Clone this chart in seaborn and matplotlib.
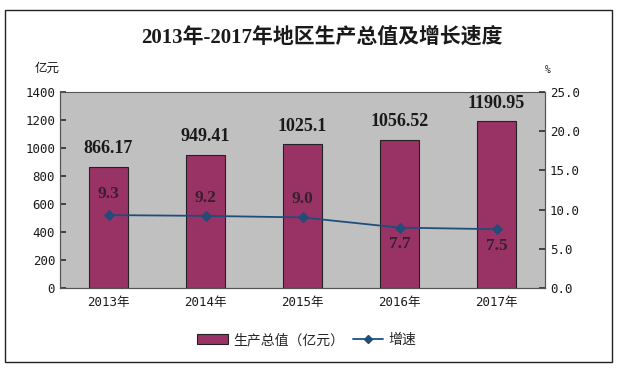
import matplotlib
matplotlib.use("Agg")
import matplotlib.pyplot as plt
import seaborn as sns
import pandas as pd
from matplotlib.patches import Rectangle
from matplotlib.lines import Line2D
from matplotlib.patches import Patch

years = ["2013年", "2014年", "2015年", "2016年", "2017年"]
gdp = [866.17, 949.41, 1025.1, 1056.52, 1190.95]
gdp_labels = ["866.17", "949.41", "1025.1", "1056.52", "1190.95"]
growth = [9.3, 9.2, 9.0, 7.7, 7.5]
growth_labels = ["9.3", "9.2", "9.0", "7.7", "7.5"]
left_ticks = [0, 200, 400, 600, 800, 1000, 1200, 1400]
right_ticks = [0, 5, 10, 15, 20, 25]
right_tick_labels = ["0.0", "5.0", "10.0", "15.0", "20.0", "25.0"]

sns.set_theme(style="white")
plt.rcParams["font.family"] = ["DejaVu Sans Mono", "Noto Sans CJK SC"]

BAR = "#993366"
LINE = "#1f4e7a"
TXT = "#1a1a1a"

fig = plt.figure(figsize=(6.19, 3.71), dpi=100)
fig.patch.set_facecolor("white")
ax = fig.add_axes([60/619, 1-288/371, 485/619, 196/371])
ax.set_facecolor("#c0c0c0")

df = pd.DataFrame({"year": years, "gdp": gdp})
sns.barplot(data=df, x="year", y="gdp", color=BAR, width=0.4, ax=ax,
            edgecolor="#222222", linewidth=0.8, saturation=1)
ax.set_xlim(-0.5, 4.5)
ax.set_ylim(0, 1400)
ax.set_yticks(left_ticks)
ax.set_xlabel("")
ax.set_ylabel("")
for i, (v, lab) in enumerate(zip(gdp, gdp_labels)):
    ax.annotate(lab, (i, v), xytext=(0, 7), textcoords="offset points",
                ha="center", va="bottom", fontsize=13, fontweight="bold",
                family="Liberation Serif", color=TXT)

ax2 = ax.twinx()
sns.lineplot(x=list(range(len(years))), y=growth, ax=ax2, color=LINE,
             marker="D", markersize=5, markeredgecolor=LINE, linewidth=1.3)
ax2.set_ylim(0, 25)
ax2.set_yticks(right_ticks)
ax2.set_yticklabels(right_tick_labels)
offs = [15, 13, 13, -12, -12]
for i, (v, lab, o) in enumerate(zip(growth, growth_labels, offs)):
    ax2.annotate(lab, (i, v), xytext=(0, o), textcoords="offset points",
                 ha="center", va="center", fontsize=12.5, fontweight="bold",
                 family="Liberation Serif", color="#3a1f2e")

ax.set_xticks([0, 1, 2, 3, 4])
ax.set_xticks([0.5, 1.5, 2.5, 3.5], minor=True)
ax.tick_params(axis="x", which="major", length=0, labelsize=9, colors=TXT, pad=6)
ax.tick_params(axis="x", which="minor", length=4, direction="in", color="#333333")
ax.tick_params(axis="y", length=4, direction="in", labelsize=9, colors=TXT, color="#333333")
ax2.tick_params(axis="y", length=4, direction="in", labelsize=9, colors=TXT, color="#333333")
for a in (ax, ax2):
    for s in a.spines.values():
        s.set_color("#555555")
        s.set_linewidth(0.8)
    a.grid(False)
ax2.spines["top"].set_visible(False)

fig.text(322/619, 1-37/371, "2013年-2017年地区生产总值及增长速度", ha="center", va="center",
         fontsize=15, fontweight="bold", family=["Liberation Serif", "Noto Sans CJK SC"], color=TXT)
fig.text(47/619, 1-68/371, "亿元", ha="center", va="center", fontsize=9,
         family=["Noto Sans CJK SC"], color=TXT)
fig.text(548/619, 1-70/371, "%", ha="center", va="center", fontsize=7, color=TXT)

handles = [Patch(facecolor=BAR, edgecolor="#222222", linewidth=0.8),
           Line2D([0], [0], color=LINE, marker="D", markersize=4, linewidth=1.3)]
fig.legend(handles, ["生产总值（亿元）", "增速"], loc="center", bbox_to_anchor=(307/619, 1-340/371),
           ncol=2, frameon=False, handlelength=2.2, columnspacing=0.6,
           handletextpad=0.4, prop={"family": ["Noto Sans CJK SC"], "size": 10})

fig.patches.append(Rectangle((5/619, 9/371), 607/619, 352/371, transform=fig.transFigure,
                             fill=False, edgecolor="#222222", linewidth=1.0))
fig.savefig("out.png", dpi=100)
